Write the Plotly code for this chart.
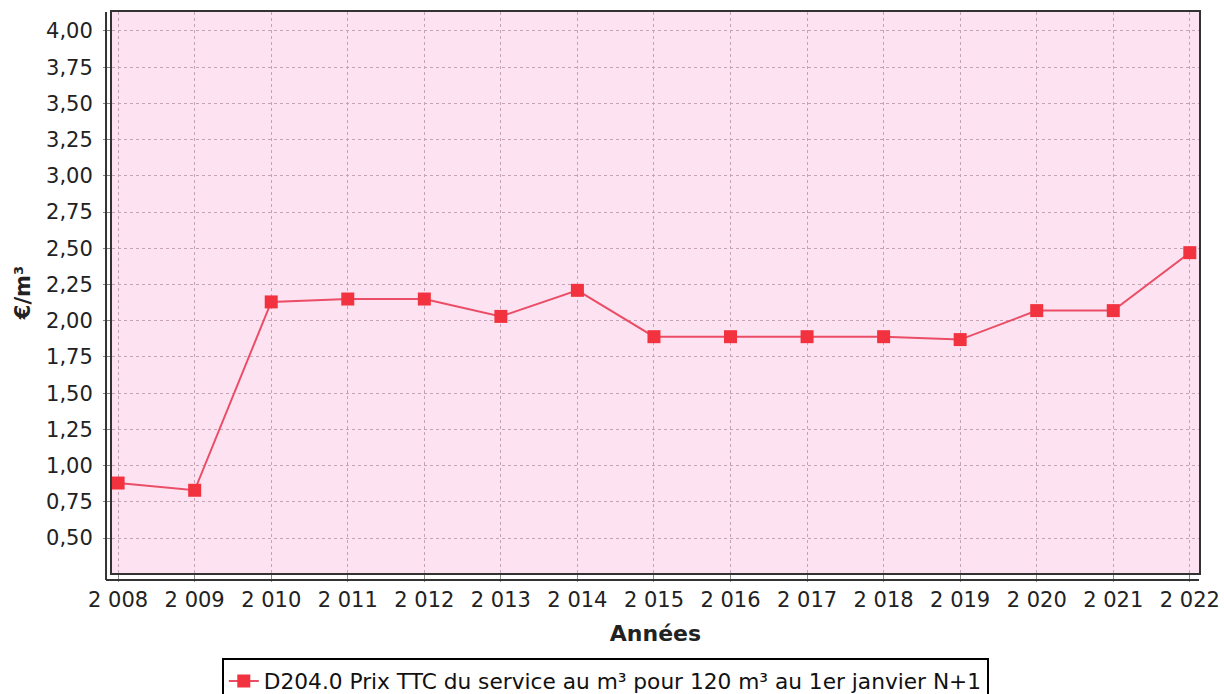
import plotly.graph_objects as go

years = [2008, 2009, 2010, 2011, 2012, 2013, 2014, 2015, 2016, 2017, 2018, 2019, 2020, 2021, 2022]
prices = [0.88, 0.83, 2.13, 2.15, 2.15, 2.03, 2.21, 1.89, 1.89, 1.89, 1.89, 1.87, 2.07, 2.07, 2.47]
year_labels = ["2 008", "2 009", "2 010", "2 011", "2 012", "2 013", "2 014", "2 015",
               "2 016", "2 017", "2 018", "2 019", "2 020", "2 021", "2 022"]
y_ticks = [0.50, 0.75, 1.00, 1.25, 1.50, 1.75, 2.00, 2.25, 2.50, 2.75, 3.00, 3.25, 3.50, 3.75, 4.00]
y_labels = ["0,50", "0,75", "1,00", "1,25", "1,50", "1,75", "2,00", "2,25", "2,50", "2,75",
            "3,00", "3,25", "3,50", "3,75", "4,00"]
series_name = "D204.0 Prix TTC du service au m³ pour 120 m³ au 1er janvier N+1"

FONT = "DejaVu Sans"

fig = go.Figure()
fig.add_trace(go.Scatter(
    x=years, y=prices, mode="lines+markers", name=series_name,
    line=dict(color="#ec4d66", width=2),
    marker=dict(symbol="square", size=13, color="#f2333f", line=dict(width=0)),
))

fig.update_layout(
    width=1224, height=694,
    margin=dict(l=112, r=25, t=12, b=121, autoexpand=False),
    paper_bgcolor="white",
    plot_bgcolor="#fde3f2",
    font=dict(family=FONT, size=21, color="#222222"),
    showlegend=True,
    legend=dict(
        x=0.101, y=-0.152, xanchor="left", yanchor="top",
        orientation="h", bordercolor="black", borderwidth=2,
        bgcolor="white", font=dict(family=FONT, size=21.7, color="#111111"),
        itemwidth=30,
    ),
    xaxis=dict(
        range=[2007.92, 2022.12],
        tickmode="array", tickvals=years, ticktext=year_labels,
        showgrid=True, gridcolor="#c4a3b6", griddash="dot", gridwidth=1,
        showline=True, linecolor="#333333", linewidth=2, mirror=True,
        ticks="outside", ticklen=7, tickcolor="#888888",
        ticklabelstandoff=0,
        tickfont=dict(family=FONT, size=21, color="#222222"),
        title=dict(text="<b>Années</b>", font=dict(family=FONT, size=22, color="#222222"), standoff=14),
        zeroline=False,
    ),
    yaxis=dict(
        range=[0.259, 4.131],
        tickmode="array", tickvals=y_ticks, ticktext=y_labels,
        showgrid=True, gridcolor="#c4a3b6", griddash="dot", gridwidth=1,
        showline=True, linecolor="#333333", linewidth=2, mirror=True,
        ticks="outside", ticklen=7, tickcolor="#888888",
        ticklabelstandoff=6,
        tickfont=dict(family=FONT, size=21, color="#222222"),
        title=dict(text="<b>€/m³</b>", font=dict(family=FONT, size=21, color="#222222"), standoff=10),
        zeroline=False,
    ),
)

# Offset axis lines (JFreeChart-style)
fig.add_shape(type="line", xref="paper", yref="paper", x0=-0.0055, x1=-0.0055, y0=-0.0125, y1=1.0,
              line=dict(color="#333333", width=2))
fig.add_shape(type="line", xref="paper", yref="paper", x0=-0.0055, x1=1.0, y0=-0.0125, y1=-0.0125,
              line=dict(color="#333333", width=2))

fig.write_html("out.html", config={"displayModeBar": False},
               post_script="document.body.style.margin='0';document.body.style.overflow='hidden';")
